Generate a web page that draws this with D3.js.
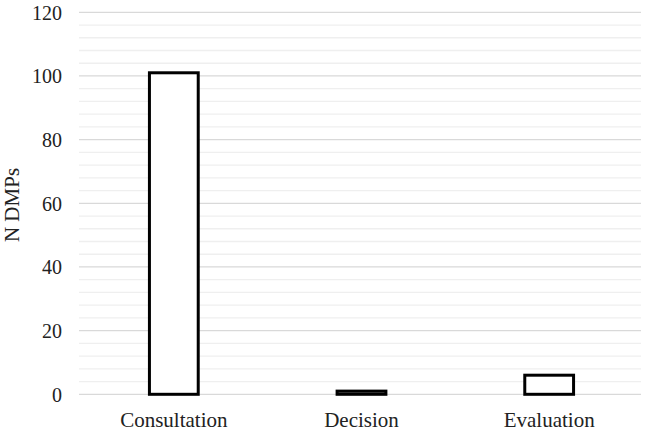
<!DOCTYPE html>
<html><head><meta charset="utf-8">
<script src="https://cdn.jsdelivr.net/npm/d3@7"></script>
<style>body{margin:0;background:#fff;}</style>
</head><body>
<svg id="chart" width="645" height="431" font-family="Liberation Serif"></svg>
<script>
const categories = ["Consultation", "Decision", "Evaluation"];
const values = [101, 1, 6];
const yTicks = [0, 20, 40, 60, 80, 100, 120];
const yMinorTicks = d3.range(0, 121, 4);
const yLabel = "N DMPs";
const FONT = "Liberation Serif";

const svg = d3.select("#chart");
const x = d3.scaleBand().domain(categories).range([80, 643]).paddingInner(0.74).paddingOuter(0.37);
const y = d3.scaleLinear().domain([0, 120]).range([394.3, 12.3]);

svg.append("g").selectAll("line").data(yMinorTicks.filter(v => v % 20 !== 0)).join("line")
  .attr("x1", 79).attr("x2", 641).attr("y1", d => y(d)).attr("y2", d => y(d))
  .attr("stroke", "#efefef").attr("stroke-width", 1.3);
svg.append("g").selectAll("line").data(yTicks).join("line")
  .attr("x1", 79).attr("x2", 641).attr("y1", d => y(d)).attr("y2", d => y(d))
  .attr("stroke", "#d9d9d9").attr("stroke-width", 1.3);

const yAxis = d3.axisLeft(y).tickValues(yTicks).tickSize(0).tickPadding(0);
const gy = svg.append("g").attr("transform", "translate(62,0)").call(yAxis);
gy.attr("font-family", FONT).attr("font-size", 20);
gy.select(".domain").remove();
gy.selectAll("text").attr("font-family", FONT).style("font-family", FONT).attr("font-size", 20).attr("fill", "#222").attr("dy", "0.34em");

const xAxis = d3.axisBottom(x).tickSize(0).tickPadding(0);
const gx = svg.append("g").attr("transform", "translate(0,410)").call(xAxis);
gx.attr("font-family", FONT).attr("font-size", 21);
gx.select(".domain").remove();
gx.selectAll("text").attr("font-family", FONT).style("font-family", FONT).attr("font-size", 21).attr("fill", "#222").attr("dy", "0.8em");

svg.append("g").selectAll("rect").data(values).join("rect")
  .attr("x", (d, i) => x(categories[i]))
  .attr("width", x.bandwidth())
  .attr("y", d => y(d))
  .attr("height", d => y(0) - y(d))
  .attr("fill", "#fff").attr("stroke", "#000").attr("stroke-width", 3);

svg.append("text").attr("transform", "translate(19,205) rotate(-90)")
  .attr("font-family", FONT).style("font-family", FONT).attr("fill", "#222")
  .attr("text-anchor", "middle").attr("font-size", 21).text(yLabel);
</script>
</body></html>
